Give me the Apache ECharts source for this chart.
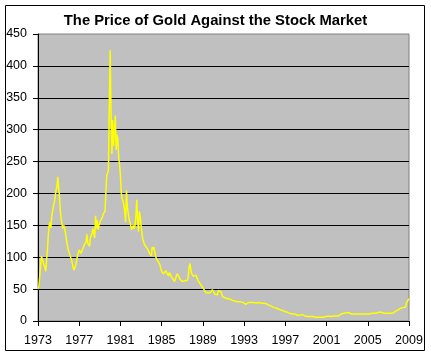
<!DOCTYPE html>
<html>
<head>
<meta charset="utf-8">
<script src="https://cdn.jsdelivr.net/npm/echarts@6/dist/echarts.min.js"></script>
<style>
html,body{margin:0;padding:0;background:#fff;}
#chart{width:431px;height:357px;}
</style>
</head>
<body>
<div id="chart"></div>
<script>
// Chart data (monthly, Jan 1973 .. Jan 2009)
const titleText = 'The Price of Gold Against the Stock Market';
const startYear = 1973;
const xTickLabels = ['1973','1977','1981','1985','1989','1993','1997','2001','2005','2009'];
const yTickValues = [0,50,100,150,200,250,300,350,400,450];
const ratio = [
  // 1973
  50, 55, 70, 72, 102, 105, 92, 88, 84, 78, 95, 112,
  // 1974
  135, 150, 155, 146, 165, 172, 180, 186, 195, 205, 210, 226,
  // 1975
  229, 195, 172, 160, 151, 145, 150, 146, 138, 128, 120, 113,
  // 1976
  108, 105, 100, 96, 90, 84, 80, 78, 88, 96, 102, 107,
  // 1977
  111, 110, 106, 108, 106, 116, 120, 122, 124, 136, 122, 120,
  // 1978
  117, 130, 132, 138, 145, 146, 130, 165, 145, 158, 143, 150,
  // 1979
  150, 158, 156, 163, 168, 168, 172, 200, 228, 232, 236, 335,
  // 1980
  425, 330, 262, 315, 275, 300, 322, 268, 292, 285, 255, 245,
  // 1981
  228, 200, 192, 188, 182, 172, 155, 205, 178, 170, 160, 162,
  // 1982
  150, 143, 140, 150, 145, 150, 165, 190, 158, 140, 172, 165,
  // 1983
  150, 137, 128, 124, 120, 122, 116, 119, 112, 110, 106, 104,
  // 1984
  102, 116, 112, 116, 107, 102, 97, 95, 93, 90, 88, 82,
  // 1985
  78, 76, 74, 72, 76, 79, 75, 73, 71, 76, 74, 70,
  // 1986
  68, 66, 64, 62, 64, 63, 74, 76, 70, 66, 66, 64,
  // 1987
  62, 61, 65, 63, 62, 60, 64, 70, 86, 90, 80, 74,
  // 1988
  72, 70, 71, 68, 72, 68, 65, 62, 60, 58, 56, 54,
  // 1989
  54, 50, 47, 45, 44, 43, 44, 45, 43, 45, 48, 49,
  // 1990
  48, 46, 42, 40, 42, 41, 48, 50, 49, 46, 43, 38,
  // 1991
  37, 36, 36, 37, 36, 35, 35, 34, 34, 33, 33, 32,
  // 1992
  32, 31, 31, 32, 31, 30, 31, 30, 30, 30, 29, 29,
  // 1993
  28, 27, 26, 25, 27, 29, 30, 29, 29, 28, 29, 29,
  // 1994
  29, 28, 28, 29, 29, 29, 29, 29, 28, 29, 29, 28,
  // 1995
  28, 27, 27, 26, 25, 25, 24, 23, 23, 22, 22, 21,
  // 1996
  21, 21, 20, 20, 19, 18, 18, 17, 17, 16, 15, 15,
  // 1997
  15, 14, 14, 13, 13, 12, 12, 12, 11, 11, 11, 11,
  // 1998
  10, 10, 9, 9, 9, 9, 9, 11, 10, 9, 8, 8,
  // 1999
  8, 8, 7, 7, 7, 7, 7, 7, 7, 6, 6, 6,
  // 2000
  6, 6, 6, 6, 6, 6, 6, 6, 6, 6, 7, 7,
  // 2001
  7, 7, 8, 7, 7, 7, 7, 8, 8, 8, 8, 8,
  // 2002
  8, 8, 8, 8, 9, 11, 11, 12, 12, 12, 12, 13,
  // 2003
  13, 13, 13, 12, 11, 11, 11, 11, 11, 11, 11, 11,
  // 2004
  11, 11, 11, 11, 11, 11, 12, 11, 11, 11, 11, 11,
  // 2005
  11, 11, 11, 11, 12, 12, 11, 11, 12, 12, 12, 13,
  // 2006
  13, 14, 14, 14, 14, 13, 12, 12, 12, 12, 12, 12,
  // 2007
  12, 12, 12, 12, 11, 12, 13, 13, 15, 16, 17, 17,
  // 2008
  17, 19, 20, 18, 19, 21, 18, 20, 22, 28, 31, 33,
  // 2009
  35
];

// monthly category names
const months = ratio.map((_, i) => {
  const y = startYear + Math.floor(i / 12);
  const m = (i % 12) + 1;
  return y + '-' + (m < 10 ? '0' + m : m);
});
const labelSet = new Set(xTickLabels.map(y => y + '-01'));
const showTick = (idx, val) => labelSet.has(val);

const FONT = '"Liberation Sans", Arial, sans-serif';
const chart = echarts.init(document.getElementById('chart'), null, {renderer: 'canvas'});
chart.setOption({
  animation: false,
  backgroundColor: '#ffffff',
  title: {
    text: titleText,
    left: 'center',
    top: 8,
    textStyle: {fontFamily: FONT, fontSize: 14.8, fontWeight: 'bold', color: '#000'}
  },
  graphic: [{
    type: 'rect',
    shape: {x: 5.5, y: 5.5, width: 419, height: 345},
    style: {fill: null, stroke: '#000', lineWidth: 1},
    silent: true,
    z: 100
  }],
  grid: {
    left: 38, right: 22, top: 34, bottom: 36,
    show: true,
    backgroundColor: '#C0C0C0',
    borderColor: '#808080',
    borderWidth: 1
  },
  xAxis: {
    type: 'category',
    data: months,
    boundaryGap: false,
    axisLine: {show: true, lineStyle: {color: '#000', width: 1}},
    axisTick: {show: true, interval: showTick, length: 5, lineStyle: {color: '#000'}},
    axisLabel: {
      interval: showTick,
      formatter: v => v.slice(0, 4),
      fontFamily: FONT, fontSize: 12.5, color: '#000', margin: 13,
      showMaxLabel: true
    },
    splitLine: {show: false}
  },
  yAxis: {
    type: 'value',
    min: yTickValues[0],
    max: yTickValues[yTickValues.length - 1],
    interval: yTickValues[1] - yTickValues[0],
    axisLine: {show: true, lineStyle: {color: '#000', width: 1}},
    axisTick: {show: true, length: 5, lineStyle: {color: '#000'}},
    axisLabel: {fontFamily: FONT, fontSize: 12.5, color: '#000', margin: 11},
    splitLine: {show: true, showMinLine: false, showMaxLine: false, lineStyle: {color: '#000', width: 1}}
  },
  series: [{
    type: 'line',
    data: ratio,
    showSymbol: false,
    symbol: 'none',
    lineStyle: {color: '#FFFF00', width: 1.5},
    z: 3
  }]
});
</script>
</body>
</html>
